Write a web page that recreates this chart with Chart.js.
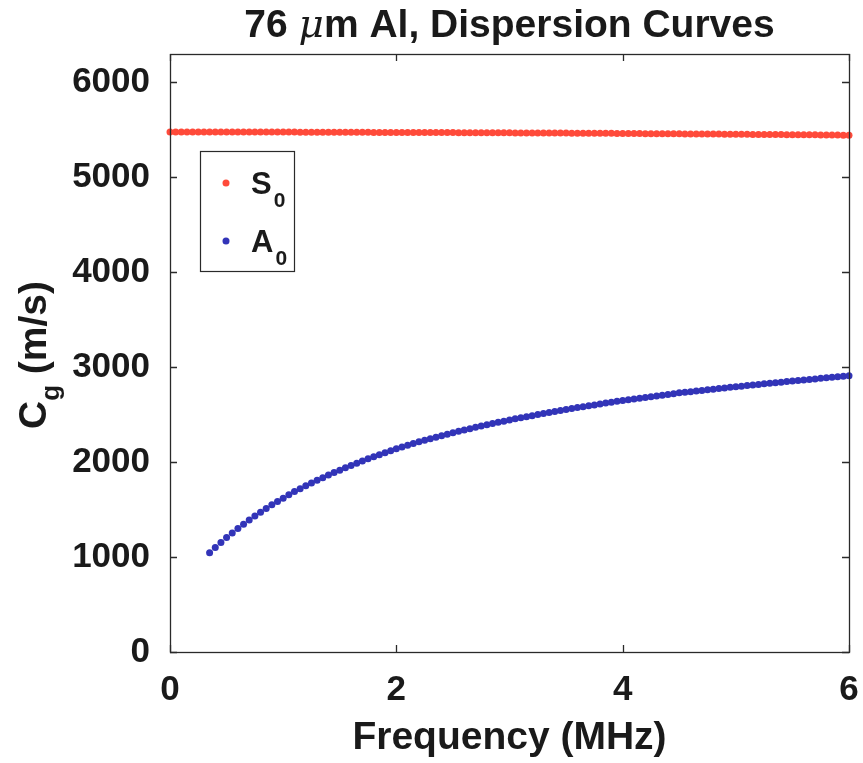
<!DOCTYPE html>
<html>
<head>
<meta charset="utf-8">
<script src="https://cdn.jsdelivr.net/npm/chart.js@4/dist/chart.umd.min.js"></script>
<style>
  html, body { margin: 0; padding: 0; background: #ffffff; }
  canvas { display: block; }
</style>
</head>
<body>
<canvas id="c" width="863" height="763"></canvas>
<script>
// Frequency grid (MHz)
const freq = [
  0.00, 0.05, 0.10, 0.15, 0.20, 0.25, 0.30, 0.35, 0.40, 0.45, 0.50,
  0.55, 0.60, 0.65, 0.70, 0.75, 0.80, 0.85, 0.90, 0.95, 1.00,
  1.05, 1.10, 1.15, 1.20, 1.25, 1.30, 1.35, 1.40, 1.45, 1.50,
  1.55, 1.60, 1.65, 1.70, 1.75, 1.80, 1.85, 1.90, 1.95, 2.00,
  2.05, 2.10, 2.15, 2.20, 2.25, 2.30, 2.35, 2.40, 2.45, 2.50,
  2.55, 2.60, 2.65, 2.70, 2.75, 2.80, 2.85, 2.90, 2.95, 3.00,
  3.05, 3.10, 3.15, 3.20, 3.25, 3.30, 3.35, 3.40, 3.45, 3.50,
  3.55, 3.60, 3.65, 3.70, 3.75, 3.80, 3.85, 3.90, 3.95, 4.00,
  4.05, 4.10, 4.15, 4.20, 4.25, 4.30, 4.35, 4.40, 4.45, 4.50,
  4.55, 4.60, 4.65, 4.70, 4.75, 4.80, 4.85, 4.90, 4.95, 5.00,
  5.05, 5.10, 5.15, 5.20, 5.25, 5.30, 5.35, 5.40, 5.45, 5.50,
  5.55, 5.60, 5.65, 5.70, 5.75, 5.80, 5.85, 5.90, 5.95, 6.00
];

// S0 group velocity (m/s)
const s0Cg = [
  5478, 5478, 5478, 5478, 5478, 5478, 5478, 5478, 5478, 5478, 5478,
  5478, 5478, 5477, 5477, 5477, 5477, 5477, 5477, 5477, 5477,
  5477, 5477, 5476, 5476, 5476, 5476, 5476, 5476, 5476, 5476,
  5475, 5475, 5475, 5475, 5475, 5474, 5474, 5474, 5474, 5474,
  5474, 5473, 5473, 5473, 5473, 5473, 5472, 5472, 5472, 5472,
  5471, 5471, 5471, 5471, 5471, 5470, 5470, 5470, 5470, 5470,
  5469, 5469, 5469, 5468, 5468, 5468, 5468, 5467, 5467, 5467,
  5466, 5466, 5466, 5465, 5465, 5465, 5464, 5464, 5463, 5463,
  5463, 5462, 5462, 5461, 5461, 5461, 5460, 5460, 5459, 5459,
  5458, 5458, 5457, 5457, 5457, 5456, 5456, 5455, 5455, 5455,
  5454, 5454, 5453, 5453, 5452, 5452, 5451, 5451, 5450, 5450,
  5449, 5449, 5448, 5448, 5447, 5447, 5446, 5446, 5445, 5445
];

// A0 group velocity (m/s); no solution traced below 0.35 MHz
const a0Cg = [
  null, null, null, null, null, null, null, 1045, 1100, 1153, 1205,
  1253, 1300, 1346, 1390, 1432, 1472, 1512, 1550, 1586, 1621,
  1656, 1690, 1721, 1751, 1781, 1810, 1837, 1864, 1890, 1915,
  1940, 1964, 1988, 2012, 2035, 2057, 2078, 2099, 2120, 2140,
  2159, 2178, 2196, 2214, 2231, 2247, 2263, 2279, 2295, 2310,
  2325, 2339, 2353, 2367, 2380, 2394, 2407, 2420, 2432, 2445,
  2456, 2468, 2479, 2490, 2501, 2512, 2523, 2534, 2544, 2555,
  2565, 2575, 2584, 2594, 2603, 2613, 2622, 2631, 2641, 2650,
  2658, 2666, 2674, 2682, 2690, 2698, 2706, 2714, 2722, 2730,
  2737, 2743, 2750, 2756, 2763, 2769, 2776, 2782, 2789, 2795,
  2801, 2807, 2813, 2819, 2825, 2831, 2837, 2843, 2849, 2855,
  2861, 2866, 2872, 2877, 2883, 2888, 2894, 2899, 2905, 2910
];

// Axis ticks
const xTicks = [0, 2, 4, 6];
const yTicks = [0, 1000, 2000, 3000, 4000, 5000, 6000];

// Legend entries: [main text, subscript]
const legendLabels = [['S', '0'], ['A', '0']];

const RED = 'rgb(255, 74, 58)';
const BLUE = 'rgb(50, 52, 184)';
const FONT = '"Liberation Sans", Arial, Helvetica, sans-serif';
const AXIS = '#2a2a2a';
const INK = '#1a1a1a';

function toPoints(ys) {
  const pts = [];
  for (let i = 0; i < freq.length; i++) {
    if (ys[i] !== null) pts.push({ x: freq[i], y: ys[i] });
  }
  return pts;
}

// Box around the axes with inward tick marks on all four sides
const framePlugin = {
  id: 'frame',
  afterDatasetsDraw(chart) {
    const { ctx, chartArea: a, scales: { x, y } } = chart;
    const tl = 7;
    ctx.save();
    ctx.strokeStyle = AXIS;
    ctx.lineWidth = 1.3;
    ctx.beginPath();
    x.ticks.forEach(t => {
      const px = Math.round(x.getPixelForValue(t.value)) + 0.5;
      ctx.moveTo(px, a.bottom); ctx.lineTo(px, a.bottom - tl);
      ctx.moveTo(px, a.top); ctx.lineTo(px, a.top + tl);
    });
    y.ticks.forEach(t => {
      const py = Math.round(y.getPixelForValue(t.value)) + 0.5;
      ctx.moveTo(a.left, py); ctx.lineTo(a.left + tl, py);
      ctx.moveTo(a.right, py); ctx.lineTo(a.right - tl, py);
    });
    ctx.stroke();
    ctx.strokeRect(Math.round(a.left) + 0.5, Math.round(a.top) + 0.5,
                   Math.round(a.width), Math.round(a.height));
    ctx.restore();
  }
};

// Title, axis titles and legend (with sub/italic text)
const textPlugin = {
  id: 'texts',
  afterDraw(chart) {
    const { ctx, chartArea: a } = chart;
    const cx = (a.left + a.right) / 2;
    ctx.save();
    ctx.fillStyle = INK;
    ctx.textBaseline = 'alphabetic';

    // Title: 76 μm Al, Dispersion Curves
    const parts = [
      { t: '76 ', f: 'bold 39px ' + FONT },
      { t: 'μ', f: 'italic 39px "DejaVu Serif", "Liberation Serif", serif' },
      { t: 'm Al, Dispersion Curves', f: 'bold 39px ' + FONT }
    ];
    let w = 0;
    parts.forEach(p => { ctx.font = p.f; p.w = ctx.measureText(p.t).width; w += p.w; });
    let tx = cx - w / 2;
    ctx.textAlign = 'left';
    parts.forEach(p => { ctx.font = p.f; ctx.fillText(p.t, tx, 37); tx += p.w; });

    // X axis title
    ctx.textAlign = 'center';
    ctx.font = 'bold 39px ' + FONT;
    ctx.fillText('Frequency (MHz)', cx, 749);

    // Y axis title: C_g (m/s)
    const cy = (a.top + a.bottom) / 2;
    ctx.translate(46, cy + 2);
    ctx.rotate(-Math.PI / 2);
    ctx.textAlign = 'left';
    const big = 'bold 39px ' + FONT, small = 'bold 26px ' + FONT;
    ctx.font = big; const wC = ctx.measureText('C').width;
    ctx.font = small; const wg = ctx.measureText('g').width;
    ctx.font = big; const wR = ctx.measureText(' (m/s)').width;
    const total = wC + wg + wR;
    let lx = -total / 2;
    ctx.font = big; ctx.fillText('C', lx, 0); lx += wC;
    ctx.font = small; ctx.fillText('g', lx, 13); lx += wg;
    ctx.font = big; ctx.fillText(' (m/s)', lx, 0);
    ctx.setTransform(1, 0, 0, 1, 0, 0);

    // Legend
    const lx0 = a.left + 30, ly0 = a.top + 97, lw = 94, lh = 120;
    ctx.fillStyle = '#ffffff';
    ctx.fillRect(lx0, ly0, lw, lh);
    ctx.strokeStyle = AXIS;
    ctx.lineWidth = 1.2;
    ctx.strokeRect(lx0 + 0.5, ly0 + 0.5, lw, lh);
    chart.data.datasets.forEach((ds, i) => {
      const rowY = ly0 + 32 + i * 58;
      ctx.fillStyle = ds.backgroundColor;
      ctx.beginPath();
      ctx.arc(lx0 + 26, rowY, 3.5, 0, Math.PI * 2);
      ctx.fill();
      ctx.fillStyle = INK;
      ctx.textAlign = 'left';
      ctx.font = 'bold 31px ' + FONT;
      const [main, sub] = legendLabels[i];
      ctx.fillText(main, lx0 + 51, rowY + 11);
      const mw = ctx.measureText(main).width;
      ctx.font = 'bold 21px ' + FONT;
      ctx.fillText(sub, lx0 + 53 + mw, rowY + 24);
    });
    ctx.restore();
  }
};

new Chart(document.getElementById('c'), {
  type: 'scatter',
  data: {
    datasets: [
      { label: 'S0', data: toPoints(s0Cg), backgroundColor: RED, borderWidth: 0,
        pointRadius: 3.5, pointHoverRadius: 3.5, clip: false },
      { label: 'A0', data: toPoints(a0Cg), backgroundColor: BLUE, borderWidth: 0,
        pointRadius: 3.5, pointHoverRadius: 3.5, clip: false }
    ]
  },
  options: {
    responsive: false,
    animation: false,
    devicePixelRatio: 1,
    layout: { padding: { top: 54, right: 14, left: 0, bottom: 0 } },
    plugins: { legend: { display: false }, tooltip: { enabled: false }, title: { display: false } },
    scales: {
      x: {
        type: 'linear', min: 0, max: 6,
        afterBuildTicks: s => { s.ticks = xTicks.map(v => ({ value: v })); },
        afterFit: s => { s.height = 111; s.paddingLeft = 0; s.paddingRight = 0; },
        grid: { display: false },
        border: { display: false },
        ticks: { color: INK, font: { family: FONT, size: 35, weight: 'bold' }, padding: 9, maxRotation: 0,
                 callback: v => String(v) }
      },
      y: {
        type: 'linear', min: 0, max: 6300,
        afterBuildTicks: s => { s.ticks = yTicks.map(v => ({ value: v })); },
        afterFit: s => { s.width = 170; s.paddingTop = 0; s.paddingBottom = 0; },
        grid: { display: false },
        border: { display: false },
        ticks: { color: INK, font: { family: FONT, size: 35, weight: 'bold' }, padding: 12,
                 callback: v => String(v) }
      }
    }
  },
  plugins: [framePlugin, textPlugin]
});
</script>
</body>
</html>
